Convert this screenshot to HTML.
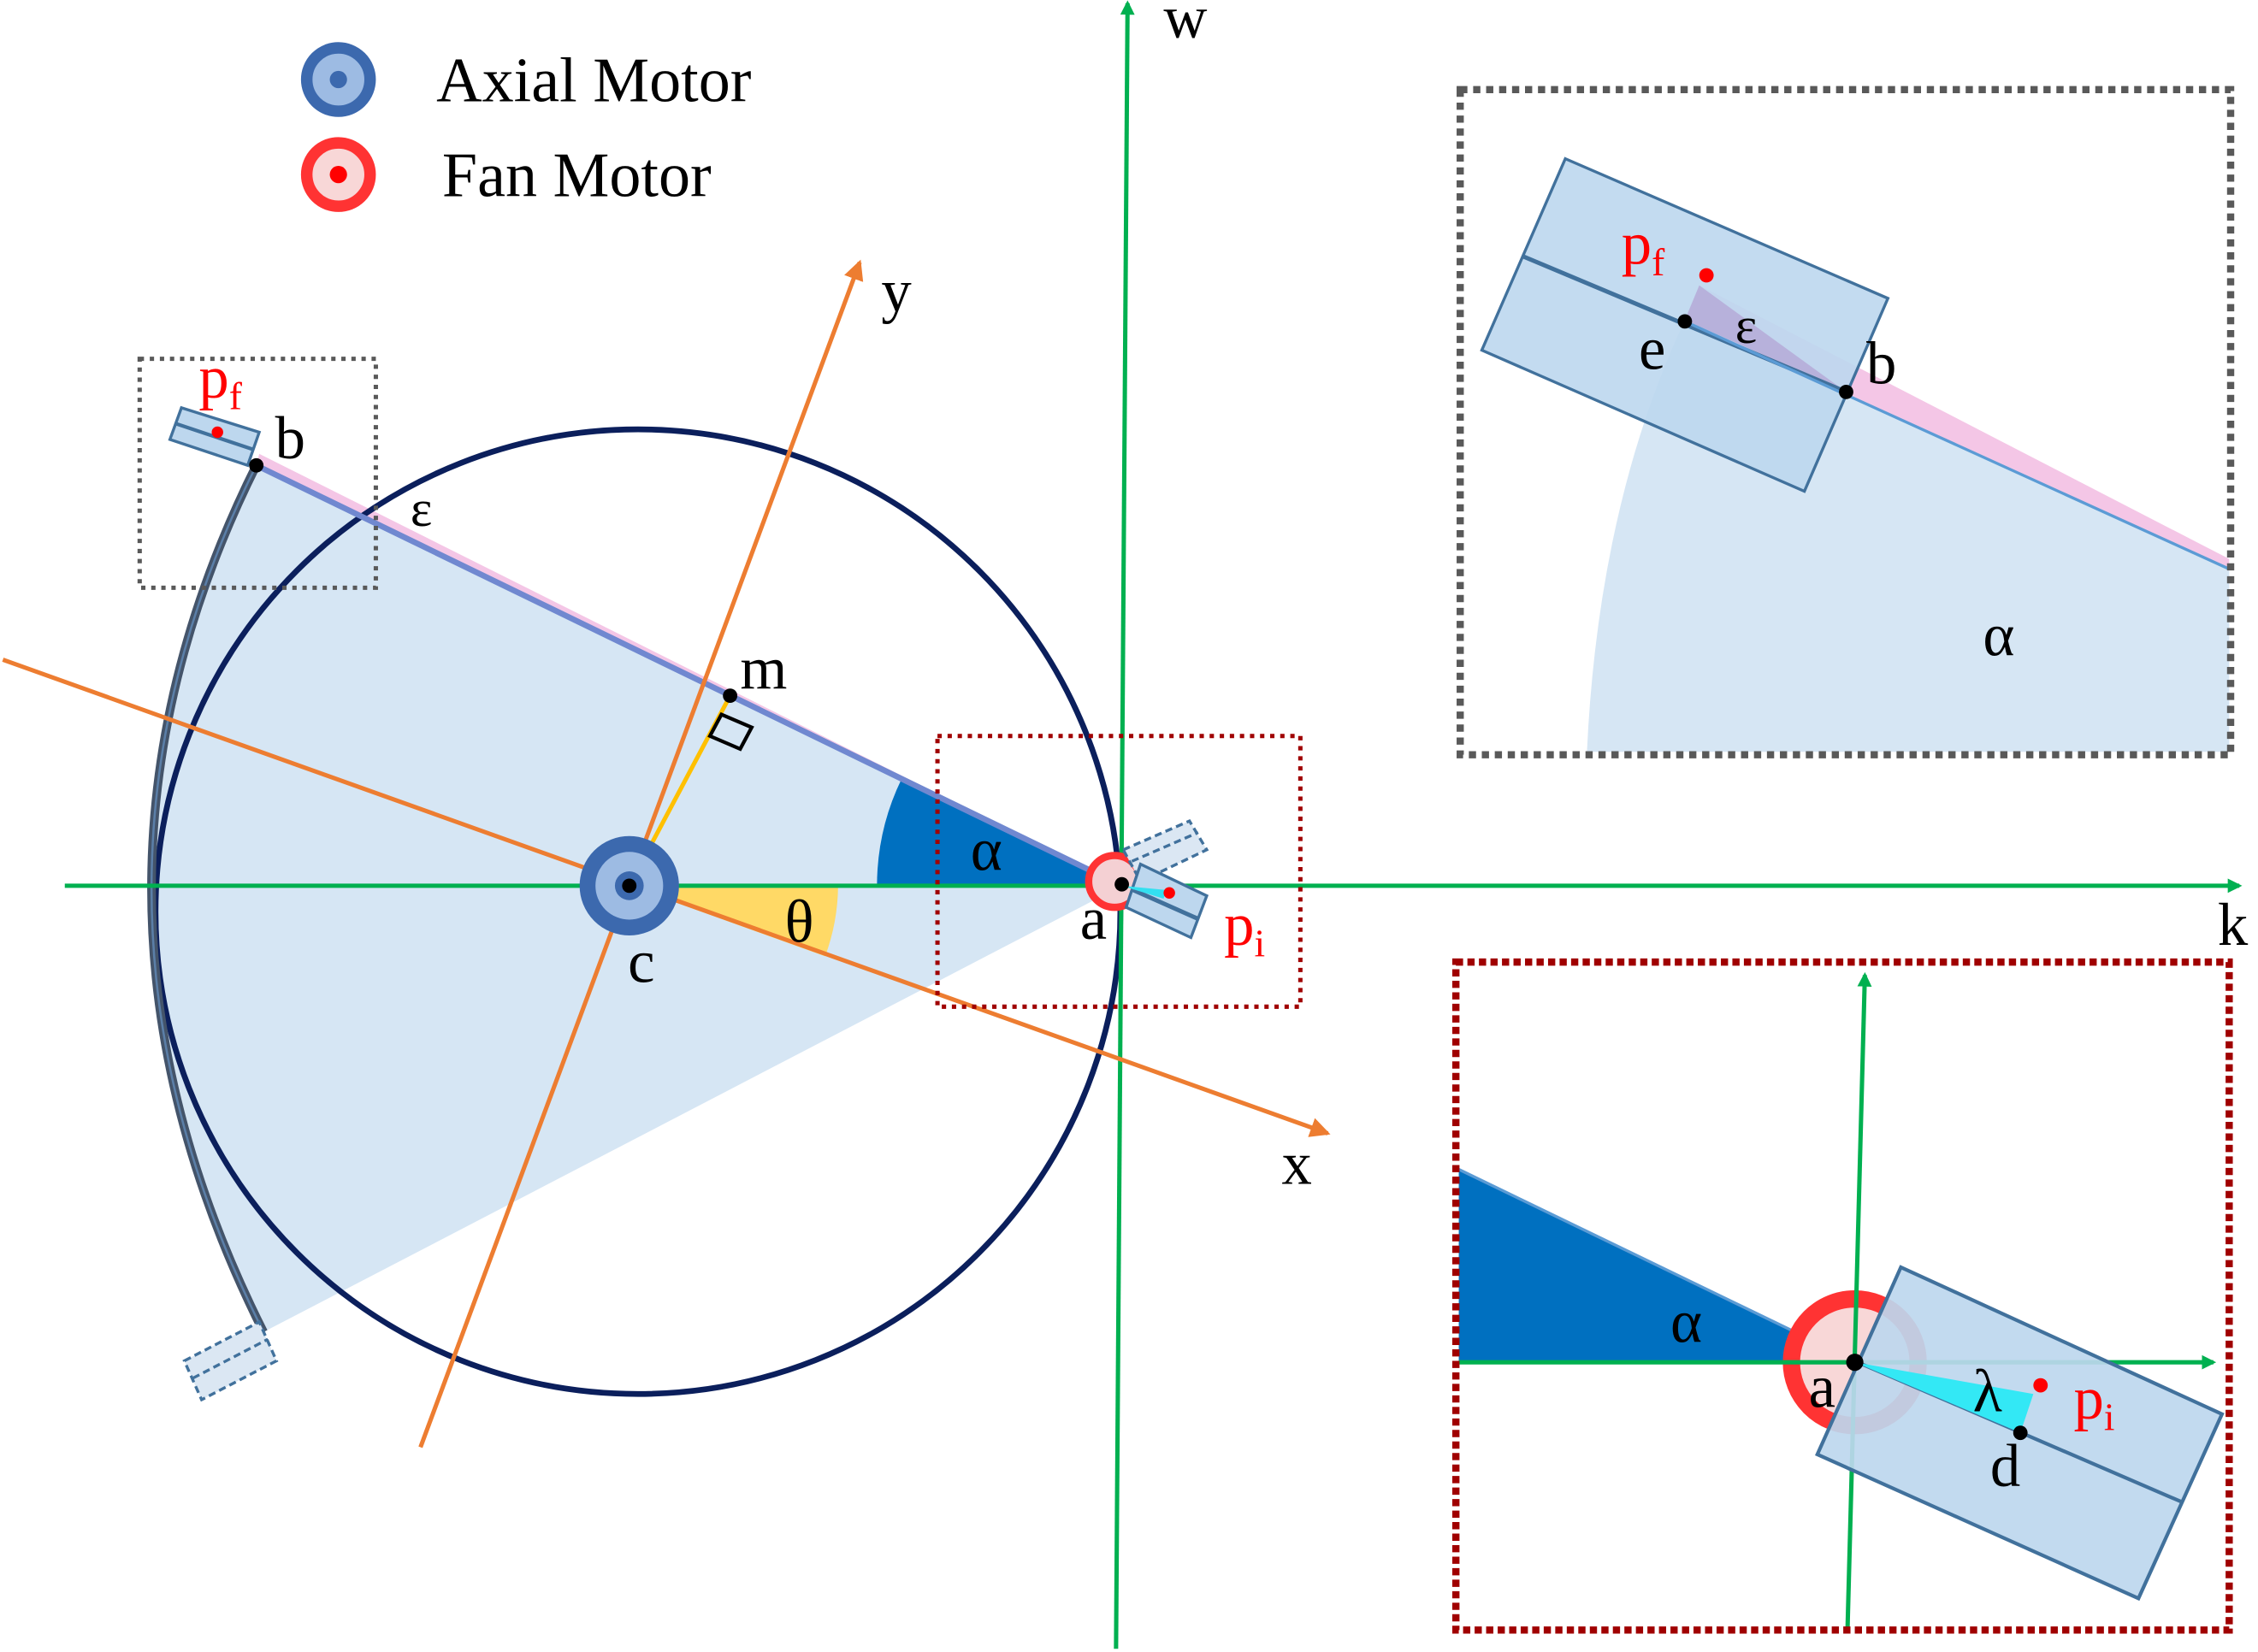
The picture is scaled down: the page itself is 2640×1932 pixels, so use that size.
<!DOCTYPE html>
<html><head><meta charset="utf-8"><style>
html,body{margin:0;padding:0;background:#fff;}
svg{display:block;}
text{font-family:"Liberation Serif",serif;}
</style></head><body>
<svg width="2640" height="1932" viewBox="0 0 1568 1147" xmlns="http://www.w3.org/2000/svg">
<defs>
<marker id="ag" markerWidth="10" markerHeight="10" refX="8" refY="5" orient="auto" markerUnits="userSpaceOnUse"><path d="M0,0 L10,5 L0,10 Z" fill="#00b050"/></marker>
<marker id="ao" markerWidth="14" markerHeight="14" refX="12" refY="7" orient="auto" markerUnits="userSpaceOnUse"><path d="M0,0 L14,7 L0,14 Z" fill="#ed7d31"/></marker>
</defs>

<path d="M779,615 L178,323 Q30,620 183,925 Z" fill="#d6e6f4"/>
<path d="M178,323 L779,615 L180,315 Z" fill="#f4c6e6"/>
<path d="M779,615 L609,615 A170,170 0 0 1 626,541 Z" fill="#0070c0"/>
<path d="M437,615 L582,615 A145,145 0 0 1 573,664 Z" fill="#ffd966"/>

<circle cx="443" cy="633" r="335" fill="none" stroke="#0b1f5c" stroke-width="4"/>

<path d="M178,323 Q30,620 183,925" fill="none" stroke="#44546a" stroke-width="6"/>
<path d="M178,323 Q30,620 183,925" fill="none" stroke="#5b7fa8" stroke-width="1.5"/>

<line x1="779" y1="615" x2="178" y2="323" stroke="#7088d0" stroke-width="4"/>

<line x1="45" y1="615" x2="1555" y2="615" stroke="#00b050" stroke-width="3" marker-end="url(#ag)"/>
<line x1="775" y1="1145" x2="783" y2="2" stroke="#00b050" stroke-width="3" marker-end="url(#ag)"/>
<line x1="292" y1="1005" x2="597" y2="182" stroke="#ed7d31" stroke-width="3" marker-end="url(#ao)"/>
<line x1="2" y1="458" x2="922" y2="787" stroke="#ed7d31" stroke-width="3" marker-end="url(#ao)"/>

<line x1="437" y1="615" x2="507" y2="483" stroke="#ffc000" stroke-width="3"/>
<path d="M501,496 L493,511 L514,520 L522,505 Z" fill="none" stroke="#000" stroke-width="2.5"/>

<g>
<circle cx="437" cy="615" r="29" fill="#9dbbe3" stroke="#3c69ae" stroke-width="11"/>
<circle cx="437" cy="615" r="10" fill="#3c69ae"/>
</g>

<circle cx="774" cy="612" r="18" fill="#f4d0d3" stroke="#ff3333" stroke-width="5"/>
<g>
<polygon points="780,590 826,570 838,590 792,612" fill="#dbe7f3" stroke="#41719c" stroke-width="2" stroke-dasharray="5,3"/>
<line x1="786" y1="598" x2="832" y2="578" stroke="#41719c" stroke-width="2" stroke-dasharray="5,3"/>
</g>
<g>
<polygon points="792,600 838,622 827,651 782,630" fill="#bdd7ee" stroke="#41719c" stroke-width="2"/>
<line x1="787" y1="618" x2="832" y2="638" stroke="#41719c" stroke-width="3"/>
<polygon points="779,615 810,618 808,624" fill="#33e0f0"/>
<circle cx="812" cy="620" r="4" fill="#ff0000"/>
</g>

<g>
<polygon points="126,283 180,300 172,323 118,305" fill="#bdd7ee" stroke="#41719c" stroke-width="2"/>
<line x1="122" y1="294" x2="176" y2="312" stroke="#41719c" stroke-width="2.5"/>
<circle cx="151" cy="300" r="4" fill="#ff0000"/>
</g>
<g>
<polygon points="128,945 180,918 192,945 140,972" fill="#dbe7f3" stroke="#41719c" stroke-width="2" stroke-dasharray="5,3"/>
<line x1="134" y1="957" x2="186" y2="930" stroke="#41719c" stroke-width="2" stroke-dasharray="5,3"/>
</g>

<circle cx="437" cy="615" r="5" fill="#000"/>
<circle cx="779" cy="614" r="5" fill="#000"/>
<circle cx="507" cy="483" r="5" fill="#000"/>
<circle cx="178" cy="323" r="5" fill="#000"/>

<rect x="97" y="249" width="164" height="159" fill="none" stroke="#595959" stroke-width="3" stroke-dasharray="3,4"/>
<rect x="651" y="511" width="252" height="188" fill="none" stroke="#a00000" stroke-width="3" stroke-dasharray="3,4"/>

<g font-size="42">
<text x="674" y="604">α</text>
<text x="545" y="654">θ</text>
<text x="436" y="682">c</text>
<text x="750" y="652">a</text>
<text x="514" y="478">m</text>
<text x="191" y="318">b</text>
<text x="285" y="365" font-size="36">ε</text>
<text x="138" y="276" fill="#ff0000">p<tspan font-size="27" dy="8">f</tspan></text>
<text x="850" y="656" fill="#ff0000">p<tspan font-size="27" dy="8">i</tspan></text>
<text x="612" y="216">y</text>
<text x="890" y="822">x</text>
<text x="808" y="26">w</text>
<text x="1540" y="656">k</text>
</g>

<g>
<circle cx="235" cy="55" r="22" fill="#9dbbe3" stroke="#3c69ae" stroke-width="8"/>
<circle cx="235" cy="55" r="6" fill="#3c69ae"/>
<text x="303" y="70" font-size="44">Axial Motor</text>
</g>
<g>
<circle cx="235" cy="121" r="22" fill="#f8d7d7" stroke="#ff3333" stroke-width="8"/>
<circle cx="235" cy="121" r="6" fill="#ff0000"/>
<text x="307" y="136" font-size="44">Fan Motor</text>
</g>

<g>
<path d="M1102,522 Q1110,350 1170,222 L1548,393 L1548,522 Z" fill="#d6e6f4"/>
<polygon points="1170,222 1180,198 1548,388 1548,395" fill="#f4c6e6"/>
<polygon points="1087,110 1311,207 1253,341 1029,243" fill="#bdd7ee" fill-opacity="0.9" stroke="#41719c" stroke-width="2"/>
<polygon points="1170,222 1180,198 1282,272" fill="#b4a7d6" fill-opacity="0.8"/>
<line x1="1058" y1="178" x2="1282" y2="272" stroke="#41719c" stroke-width="3"/>
<line x1="1170" y1="223" x2="1548" y2="395" stroke="#5b9bd5" stroke-width="2"/>
<circle cx="1170" cy="223" r="5" fill="#000"/>
<circle cx="1282" cy="272" r="5" fill="#000"/>
<circle cx="1185" cy="191" r="5" fill="#ff0000"/>
<text x="1126" y="183" font-size="42" fill="#ff0000">p<tspan font-size="27" dy="8">f</tspan></text>
<text x="1205" y="238" font-size="36">ε</text>
<text x="1138" y="256" font-size="42">e</text>
<text x="1296" y="266" font-size="42">b</text>
<text x="1377" y="455" font-size="42">α</text>
<rect x="1014" y="62" width="535" height="462" fill="none" stroke="#595959" stroke-width="5" stroke-dasharray="5,4"/>
</g>

<g>
<polygon points="1013,812 1290,946 1013,946" fill="#0070c0"/>
<line x1="1013" y1="812" x2="1290" y2="946" stroke="#5b9bd5" stroke-width="2"/>
<circle cx="1288" cy="946" r="44" fill="#f8d7d7" stroke="#ff3333" stroke-width="12"/>
<line x1="1013" y1="946" x2="1537" y2="946" stroke="#00b050" stroke-width="3" marker-end="url(#ag)"/>
<line x1="1283" y1="1130" x2="1295" y2="677" stroke="#00b050" stroke-width="3" marker-end="url(#ag)"/>
<polygon points="1320,880 1543,982 1485,1110 1262,1010" fill="#bdd7ee" fill-opacity="0.92" stroke="#41719c" stroke-width="2.5"/>
<line x1="1290" y1="946" x2="1515" y2="1043" stroke="#41719c" stroke-width="2.5"/>
<polygon points="1288,946 1412,968 1403,995" fill="#33e8f5"/>
<circle cx="1288" cy="946" r="6" fill="#000"/>
<circle cx="1403" cy="995" r="5" fill="#000"/>
<circle cx="1417" cy="962" r="5" fill="#ff0000"/>
<text x="1160" y="932" font-size="42">α</text>
<text x="1256" y="977" font-size="42">a</text>
<text x="1370" y="980" font-size="42">λ</text>
<text x="1440" y="985" font-size="42" fill="#ff0000">p<tspan font-size="27" dy="8">i</tspan></text>
<text x="1382" y="1032" font-size="42">d</text>
<rect x="1011" y="668" width="537" height="464" fill="none" stroke="#a00000" stroke-width="5" stroke-dasharray="5,3"/>
</g>
</svg>
</body></html>
